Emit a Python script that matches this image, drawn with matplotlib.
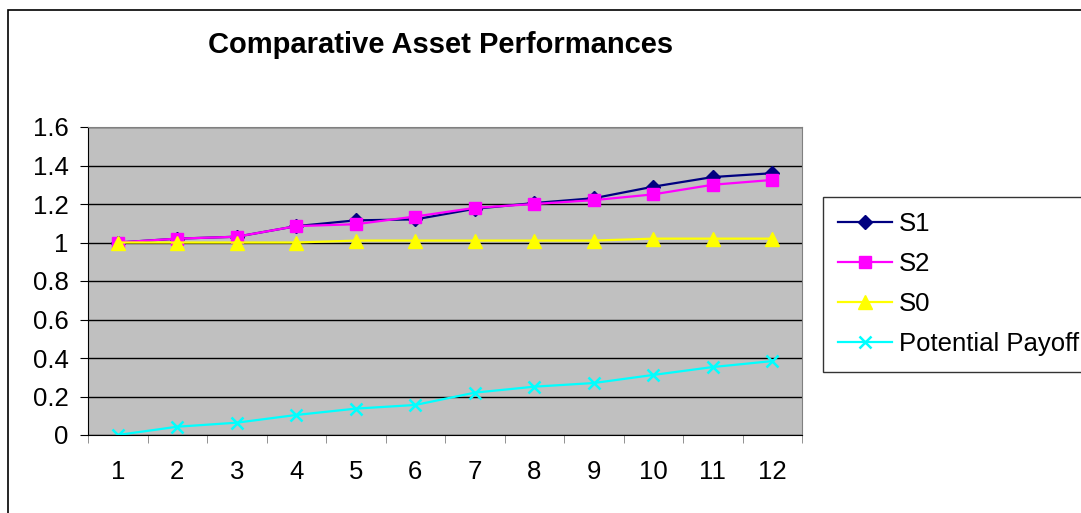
import matplotlib.pyplot as plt
import matplotlib.patches as patches
from matplotlib.ticker import FuncFormatter

plt.rcParams['font.family'] = ['Liberation Sans', 'DejaVu Sans']

# data
periods = [1, 2, 3, 4, 5, 6, 7, 8, 9, 10, 11, 12]
s1 = [1.00, 1.02, 1.03, 1.085, 1.115, 1.12, 1.175, 1.205, 1.23, 1.29, 1.34, 1.36]
s2 = [1.00, 1.02, 1.03, 1.085, 1.095, 1.135, 1.18, 1.20, 1.22, 1.25, 1.30, 1.325]
s0 = [1.00, 1.00, 1.00, 1.00, 1.01, 1.01, 1.01, 1.01, 1.01, 1.02, 1.02, 1.02]
payoff = [0.00, 0.043, 0.064, 0.104, 0.137, 0.156, 0.22, 0.251, 0.27, 0.312, 0.353, 0.384]
y_ticks = [0, 0.2, 0.4, 0.6, 0.8, 1.0, 1.2, 1.4, 1.6]

fig = plt.figure(figsize=(10.81, 5.13), dpi=100)
W, H = 1081, 513

# outer chart border
fig.patches.append(patches.Rectangle((8 / W, -0.1), 1.2, 1 - 10 / H + 0.1,
                                     transform=fig.transFigure, fill=False,
                                     edgecolor='black', linewidth=1.2))

ax = fig.add_axes([88 / W, 1 - 435 / H, (802 - 88) / W, (435 - 127) / H])
ax.set_facecolor('#C0C0C0')

ax.plot(periods, s1, color='#000080', marker='D', markersize=7.5, linewidth=1.6, label='S1')
ax.plot(periods, s2, color='#FF00FF', marker='s', markersize=8.5, linewidth=1.6, label='S2')
ax.plot(periods, s0, color='#FFFF00', marker='^', markersize=10, linewidth=1.6, label='S0')
ax.plot(periods, payoff, color='#00FFFF', marker='x', markersize=9, markeredgewidth=1.8,
        linewidth=1.6, label='Potential Payoff')

ax.set_xlim(0.5, 12.5)
ax.set_ylim(0, 1.6)
ax.set_yticks(y_ticks)
ax.yaxis.set_major_formatter(FuncFormatter(lambda v, p: f'{v:g}'))
ax.set_xticks(periods)
ax.set_xticks([p + 0.5 for p in [0] + periods], minor=True)
ax.tick_params(axis='x', which='major', length=0, pad=18, labelsize=18.5)
ax.tick_params(axis='x', which='minor', length=6, color='#808080', direction='out')
ax.tick_params(axis='y', length=6, direction='out', labelsize=18.5, pad=8)
ax.grid(axis='y', color='black', linewidth=1)
ax.set_axisbelow(True)
for sp in ax.spines.values():
    sp.set_color('#808080')
ax.spines['left'].set_color('black')
ax.spines['bottom'].set_color('black')

fig.text(441 / W, 1 - 45 / H, 'Comparative Asset Performances', ha='center', va='center',
         fontsize=21, fontweight='bold')

leg = fig.legend(loc='upper left', bbox_to_anchor=(823 / W, 1 - 197 / H), fontsize=18.5,
                 frameon=True, fancybox=False, edgecolor='black', borderpad=0.6,
                 handlelength=2.1, handletextpad=0.25, labelspacing=0.62,
                 borderaxespad=0)
leg.get_frame().set_linewidth(1.0)

fig.savefig('out.png', dpi=100)
